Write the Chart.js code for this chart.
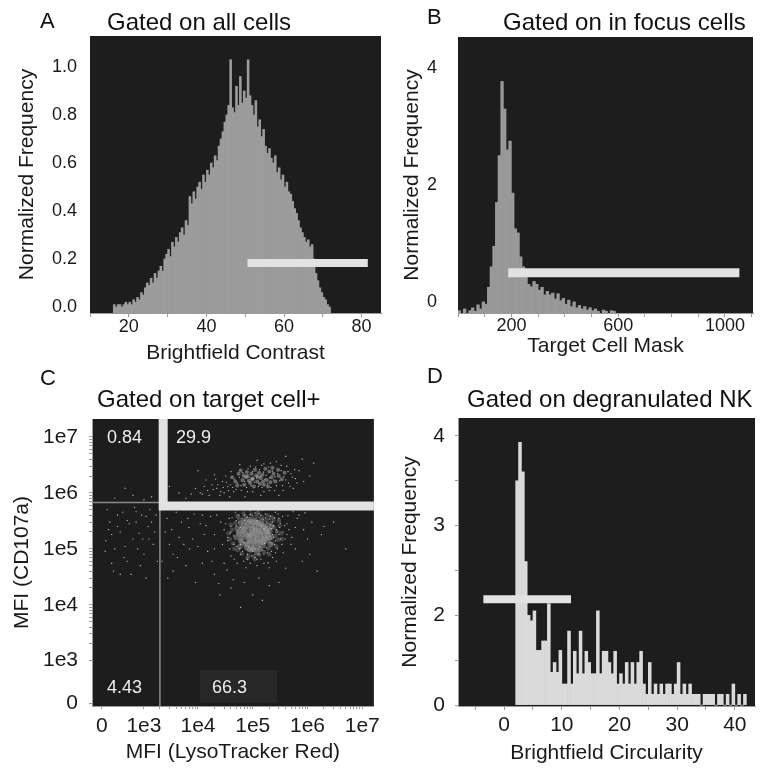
<!DOCTYPE html>
<html>
<head>
<meta charset="utf-8">
<script src="https://cdn.jsdelivr.net/npm/chart.js@4.4.0/dist/chart.umd.min.js"></script>
<style>
  body { margin: 0; background: #fff; }
  #fig { position: relative; width: 760px; height: 769px; font-family: "Liberation Sans", Arial, sans-serif; color: #111; }
  #fig canvas { position: absolute; }
  .lbl { position: absolute; font-size: 22px; line-height: 1; white-space: nowrap; }
  .ttl { position: absolute; font-size: 24px; line-height: 1; white-space: nowrap; }
</style>
</head>
<body>
<div id="fig">
  <canvas id="chartA" width="385" height="380" style="left:0;top:0"></canvas>
  <canvas id="chartB" width="380" height="380" style="left:380px;top:0"></canvas>
  <canvas id="chartC" width="385" height="385" style="left:0;top:384px"></canvas>
  <canvas id="chartD" width="380" height="385" style="left:380px;top:384px"></canvas>
  <div class="lbl" style="left:40px;top:10px">A</div>
  <div class="ttl" style="left:107px;top:10px">Gated on all cells</div>
  <div class="lbl" style="left:427px;top:6px">B</div>
  <div class="ttl" style="left:503px;top:10px">Gated on in focus cells</div>
  <div class="lbl" style="left:40px;top:367px">C</div>
  <div class="ttl" style="left:97px;top:387px">Gated on target cell+</div>
  <div class="lbl" style="left:427px;top:365px">D</div>
  <div class="ttl" style="left:467px;top:387px">Gated on degranulated NK</div>
</div>
<script>
// ---- A: brightfield contrast, all cells (bins of 0.5 from 16) ----
const aBinStart = 16, aBinWidth = 0.5;
const aFreq = [
  0.01, 0, 0.01, 0.01, 0, 0.01, 0.02, 0.01, 0.02, 0.01,
  0.03, 0.02, 0.04, 0.03, 0.06, 0.05, 0.08, 0.1, 0.09, 0.12,
  0.1, 0.14, 0.12, 0.15, 0.17, 0.15, 0.2, 0.22, 0.24, 0.21,
  0.27, 0.25, 0.29, 0.27, 0.31, 0.33, 0.3, 0.36, 0.34, 0.46,
  0.43, 0.48, 0.45, 0.5, 0.52, 0.49, 0.55, 0.52, 0.57, 0.55,
  0.6, 0.58, 0.63, 0.61, 0.67, 0.7, 0.73, 0.77, 0.8, 0.84,
  1.03, 0.83, 0.81, 0.92, 0.84, 0.96, 0.85, 0.9, 0.87, 1.03,
  0.88, 0.84, 0.8, 0.86, 0.75, 0.78, 0.71, 0.74, 0.67, 0.64,
  0.66, 0.62, 0.6, 0.63, 0.56, 0.58, 0.53, 0.55, 0.5, 0.52,
  0.48, 0.47, 0.44, 0.41, 0.39, 0.36, 0.33, 0.31, 0.29, 0.27,
  0.28, 0.25, 0.26, 0.2, 0.14, 0.11, 0.08, 0.06, 0.04, 0.03,
  0.01, 0
];
const aGateX = [50.6, 81.6];
const aGateY = 0.183;
const aXTickMarks = [10, 20, 30, 40, 50, 60, 70, 80];
const aXLabels = [20, 40, 60, 80];
const aYLabels = [0, 0.2, 0.4, 0.6, 0.8, 1.0];

// ---- B: target cell mask, in focus cells (bins of 10 from 0) ----
const bBinStart = 0, bBinWidth = 10;
const bFreq = [
  -0.15, null, -0.12, null, -0.15, -0.1, -0.16, -0.05, -0.12, 0.0,
  -0.04, 0.25, 0.6, 0.95, 1.7, 2.5, 3.77, 3.3, 2.6, 2.75,
  1.86, 1.25, 1.18, 0.77, 0.6, 0.5, 0.3, 0.26, 0.35, 0.3,
  0.2, 0.25, 0.12, 0.18, 0.12, 0.15, 0.05, 0.14, 0.02, 0.06,
  -0.04, 0.03, -0.08, 0.0, -0.1, -0.06, -0.12, -0.08, -0.14, -0.1,
  -0.15, -0.12, -0.16, null, -0.14, -0.16, null, -0.15, -0.16, null
];
const bGateX = [188, 1054];
const bGateY = 0.5;
const bXTickMarks = [0, 100, 200, 300, 400, 500, 600, 700, 800, 900, 1000, 1100];
const bXLabels = [200, 600, 1000];
const bYLabels = [0, 2, 4];

// ---- C: CD107a vs LysoTracker Red, target cell+ ----
const cUpperCore = [
  [1.0e5,1.8e6],[1.2e5,1.6e6],[8.0e4,2.0e6],[1.5e5,2.1e6],[6.5e4,1.7e6],[1.8e5,1.7e6],[9.0e4,1.5e6],[1.3e5,2.3e6],
  [2.2e5,1.9e6],[7.0e4,1.4e6],[1.1e5,2.6e6],[2.6e5,1.6e6],[5.5e4,2.2e6],[1.6e5,1.4e6],[9.5e4,2.2e6],[2.0e5,2.4e6],
  [7.5e4,1.9e6],[1.4e5,1.85e6],[3.0e5,2.0e6],[4.8e4,1.6e6],[1.7e5,2.7e6],[1.05e5,1.3e6],[2.4e5,2.2e6],[8.5e4,1.65e6],
  [6.0e4,2.5e6],[1.25e5,1.95e6],[3.4e5,1.75e6],[4.2e4,1.9e6],[1.9e5,1.3e6],[1.15e5,2.05e6],[2.9e5,2.6e6],[7.8e4,2.35e6],
  [1.55e5,1.6e6],[5.2e4,1.35e6],[2.1e5,1.55e6],[9.8e4,1.75e6],[3.8e5,2.3e6],[1.35e5,1.45e6],[6.8e4,2.05e6],[2.3e5,2.8e6]
];
const cUpperSpread = [
  [3.5e4,1.3e6],[2.8e4,1.6e6],[2.2e4,1.2e6],[1.8e4,1.4e6],[3.0e4,1.0e6],[1.5e4,1.1e6],[4.0e4,2.4e6],[2.5e4,9.0e5],
  [1.2e4,9.5e5],[9.0e3,1.2e6],[3.8e4,8.5e5],[6.0e3,8.0e5],[1.4e4,1.7e6],[4.5e3,1.0e6],[3.2e4,2.0e6],[4.5e5,1.5e6],
  [5.0e5,2.2e6],[6.0e5,1.8e6],[4.2e5,3.0e6],[7.0e5,2.5e6],[5.5e5,1.2e6],[8.5e5,1.6e6],[3.6e5,1.1e6],[1.6e5,3.3e6],
  [9.0e4,3.0e6],[2.7e5,3.6e6],[1.2e5,3.8e6],[5.8e4,3.2e6],[2.0e5,1.1e6],[1.0e5,1.05e6],[6.2e4,1.1e6],[3.0e5,9.0e5],
  [1.4e5,9.0e5],[4.5e4,1.05e6],[1.1e6,2.0e6],[2.0e4,2.1e6],[7.2e4,8.5e5],[4.0e5,4.5e6],[1.3e6,3.4e6],[3.0e3,1.3e6],
  [1.0e4,2.5e6],[8.0e5,4.0e6],
  [1.6e4,9.0e5],[1.9e4,1.15e6],[2.3e4,1.4e6],[2.6e4,1.05e6],[2.9e4,1.25e6],[3.3e4,1.55e6],[3.6e4,1.1e6],[3.9e4,1.4e6],
  [4.3e4,1.25e6],[4.6e4,1.75e6],[5.0e4,1.15e6],[5.3e4,1.5e6],[5.7e4,1.9e6],[6.1e4,1.35e6],[6.6e4,2.3e6],[7.1e4,1.6e6],
  [7.7e4,1.25e6],[8.2e4,2.7e6],[8.8e4,1.9e6],[9.3e4,1.35e6],[9.9e4,2.4e6],[1.07e5,1.55e6],[1.13e5,2.9e6],[1.19e5,1.85e6],
  [1.27e5,1.3e6],[1.33e5,2.6e6],[1.41e5,2.0e6],[1.47e5,1.25e6],[1.58e5,2.35e6],[1.66e5,1.75e6],[1.76e5,2.05e6],[1.85e5,1.45e6],
  [1.95e5,2.9e6],[2.05e5,1.85e6],[2.15e5,1.25e6],[2.28e5,2.45e6],[2.4e5,1.7e6],[2.55e5,1.95e6],[2.7e5,1.35e6],[2.85e5,2.2e6],
  [3.1e5,1.65e6],[3.3e5,2.5e6],[3.5e5,1.35e6],[3.7e5,1.95e6],[4.0e5,1.7e6],[4.4e5,2.4e6],[4.8e5,1.3e6],[5.3e5,1.9e6],
  [5.8e5,2.6e6],[6.4e5,1.5e6],[2.1e4,1.75e6],[1.3e4,1.3e6],[1.1e4,1.0e6],[7.5e3,9.5e5],[8.0e4,1.05e6],[1.6e5,1.05e6],
  [2.5e5,1.1e6],[3.3e5,3.1e6],[2.1e5,3.4e6],[1.45e5,3.1e6]
];
const cLowerCore = [
  [1.0e5,1.7e5],[1.2e5,1.5e5],[8.5e4,1.9e5],[1.1e5,2.1e5],[9.0e4,1.4e5],[1.4e5,1.8e5],[7.5e4,1.6e5],[1.3e5,2.4e5],
  [9.5e4,2.6e5],[1.05e5,1.2e5],[1.6e5,1.4e5],[7.0e4,2.2e5],[1.25e5,1.05e5],[8.0e4,1.25e5],[1.5e5,2.2e5],[6.5e4,1.8e5],
  [1.15e5,2.9e5],[1.8e5,1.9e5],[9.2e4,9.5e4],[1.35e5,1.3e5],[6.0e4,1.4e5],[1.7e5,2.6e5],[8.2e4,2.9e5],[1.45e5,3.1e5],
  [1.0e5,3.3e5],[2.0e5,1.55e5],[5.5e4,2.0e5],[1.2e5,8.5e4],[7.8e4,1.05e5],[1.9e5,2.3e5],[6.8e4,2.6e5],[1.55e5,1.15e5],
  [1.08e5,2.45e5],[8.8e4,1.65e5],[1.28e5,1.95e5],[9.8e4,2.0e5],[1.18e5,1.78e5],[7.2e4,1.95e5],[1.42e5,1.58e5],[8.4e4,2.35e5],
  [1.02e5,1.45e5],[1.22e5,1.25e5],[9.4e4,1.15e5],[1.62e5,1.72e5],[6.2e4,1.58e5],[1.12e5,2.25e5],[8.6e4,1.38e5],[1.32e5,2.75e5],
  [7.6e4,2.48e5],[1.48e5,2.0e5],[1.04e5,1.88e5],[9.1e4,1.78e5],[1.16e5,1.62e5],[1.26e5,2.15e5],[8.1e4,1.72e5],[1.38e5,1.42e5],
  [9.7e4,2.32e5],[1.75e5,2.05e5],[6.6e4,2.1e5],[1.1e5,1.35e5],
  [5.0e4,1.6e5],[5.2e4,2.3e5],[5.8e4,1.1e5],[6.0e4,2.9e5],[6.4e4,1.3e5],[6.8e4,3.1e5],[7.4e4,1.2e5],[7.8e4,3.3e5],
  [8.6e4,9.8e4],[8.8e4,3.1e5],[9.6e4,3.0e5],[1.06e5,9.8e4],[1.14e5,3.1e5],[1.24e5,2.9e5],[1.34e5,9.8e4],[1.44e5,2.7e5],
  [1.52e5,1.3e5],[1.58e5,2.5e5],[1.66e5,1.55e5],[1.72e5,2.3e5],[1.82e5,1.4e5],[1.86e5,2.1e5],[1.95e5,1.75e5],[2.05e5,2.05e5],
  [2.15e5,1.6e5],[2.2e5,2.5e5],[5.6e4,1.85e5],[6.2e4,2.35e5],[2.1e5,1.2e5],[1.0e5,1.0e5]
];
const cLowerRing = [
  [3.8e4,1.5e5],[4.2e4,2.2e5],[4.4e4,1.25e5],[4.8e4,2.9e5],[5.3e4,9.5e4],[5.6e4,3.5e5],[6.3e4,8.2e4],[7.3e4,3.8e5],
  [8.3e4,7.6e4],[9.3e4,4.1e5],[1.05e5,7.4e4],[1.18e5,4.0e5],[1.32e5,7.8e4],[1.46e5,3.7e5],[1.62e5,8.8e4],[1.78e5,3.3e5],
  [1.95e5,1.0e5],[2.1e5,2.9e5],[2.3e5,1.25e5],[2.45e5,2.4e5],[2.6e5,1.7e5],[2.75e5,2.05e5],[2.9e5,1.45e5],[3.1e5,2.6e5],
  [2.4e5,3.3e5],[2.7e5,1.1e5],[3.3e5,1.9e5],[3.6e4,1.9e5],[4.0e4,2.7e5],[4.6e4,1.0e5],[6.8e4,4.3e5],[1.25e5,4.5e5],
  [1.85e5,4.0e5],[2.2e5,3.7e5],[5.2e4,3.9e5],[2.0e5,8.0e4],[1.1e5,6.5e4],[8.0e4,6.8e4],[3.0e5,3.2e5],[3.4e5,1.5e5]
];
const cLowerSpread = [
  [2.5e5,1.2e5],[2.3e5,3.0e5],[4.5e4,1.2e5],[4.0e4,2.5e5],[2.8e5,2.0e5],[3.2e5,1.5e5],[5.0e4,3.2e5],[2.1e5,3.8e5],
  [1.3e5,4.2e5],[7.0e4,4.0e5],[1.1e5,7.0e4],[8.0e4,6.5e4],[1.6e5,8.0e4],[6.0e4,8.0e4],[3.5e4,1.6e5],[2.2e5,9.0e4],
  [3.8e5,2.6e5],[3.0e4,2.2e5],[2.6e5,4.5e5],[9.0e4,4.8e5],[4.2e5,1.8e5],[1.9e5,5.6e4],[5.2e4,5.5e4],[2.8e4,1.2e5],
  [1.5e5,4.9e5],[3.0e5,3.5e5],[4.8e4,4.5e5],[2.6e4,3.0e5],[5.0e5,1.2e5],[2.0e5,4.6e4],[1.2e5,5.0e4],[7.5e4,4.6e4],
  [3.6e5,8.5e4],[4.0e4,7.5e4],[6.0e5,2.4e5],[2.0e4,1.8e5],[2.2e4,4.0e5],[4.4e5,3.9e5],[3.4e4,4.2e4],[2.7e5,6.0e4],
  [1.7e5,3.6e5],[6.4e4,3.5e5],[3.1e5,2.4e5],[5.8e4,1.0e5],[2.4e5,1.6e5],[1.4e5,6.5e4],[8.8e4,3.6e5],[3.9e4,1.9e5],
  [2.1e5,2.7e5],[1.8e5,1.05e5],
  [3.5e4,1.4e5],[4.0e4,2.0e5],[4.5e4,1.7e5],[5.0e4,2.6e5],[5.0e4,1.1e5],[5.5e4,3.0e5],[6.0e4,2.4e5],[6.0e4,1.2e5],
  [6.5e4,9.0e4],[7.0e4,3.2e5],[7.0e4,1.3e5],[7.5e4,2.8e5],[8.0e4,8.0e4],[8.0e4,3.7e5],[8.5e4,1.1e5],[9.0e4,4.1e5],
  [9.0e4,2.1e5],[9.5e4,7.5e4],[1.0e5,3.9e5],[1.0e5,9.0e4],[1.05e5,2.8e5],[1.1e5,4.4e5],[1.1e5,1.0e5],[1.15e5,3.6e5],
  [1.2e5,6.5e4],[1.2e5,3.2e5],[1.3e5,8.0e4],[1.3e5,3.6e5],[1.35e5,1.1e5],[1.4e5,4.0e5],[1.45e5,2.6e5],[1.5e5,9.5e4],
  [1.55e5,3.4e5],[1.6e5,2.3e5],[1.65e5,1.25e5],[1.7e5,4.2e5],[1.75e5,1.6e5],[1.8e5,3.0e5],[1.85e5,8.5e4],[1.9e5,2.8e5],
  [2.0e5,1.9e5],[2.0e5,3.4e5],[2.1e5,1.3e5],[2.2e5,2.3e5],[2.3e5,1.8e5],[2.3e5,7.0e4],[2.4e5,2.6e5],[2.5e5,3.6e5],
  [2.6e5,1.4e5],[2.7e5,2.2e5],[2.8e5,1.0e5],[3.0e5,1.8e5],[3.2e5,2.9e5],[3.4e5,1.2e5],[3.6e5,2.0e5],[3.9e5,1.5e5],
  [4.2e5,2.8e5],[4.6e5,2.2e5],[5.2e5,1.6e5],[2.9e5,4.2e5],[4.2e4,3.6e5],[3.2e4,2.8e5],[3.8e4,1.0e5],[4.6e4,6.5e4],
  [5.6e4,4.0e5],[1.6e5,5.5e4],[9.0e4,5.5e4],[6.8e4,6.0e4],[2.6e5,8.5e4],[3.5e5,3.8e5],
  [5.0e3,3.0e5],[8.0e3,1.5e5],[3.5e3,8.0e4],[1.2e4,4.0e5],[6.0e3,5.0e4],[1.5e4,9.0e4],[2.5e3,2.0e5],[4.0e3,4.5e5],
  [9.0e3,2.5e4],[2.0e4,3.5e4],[1.1e4,2.8e5],[7.0e3,1.0e5],[1.8e4,6.0e4],[3.0e3,1.2e5],[1.0e6,1.5e5],[2.0e6,2.5e5],
  [8.0e5,6.0e4],[1.5e6,4.0e4],[5.0e6,1.0e5],[7.0e5,4.0e5],[1.2e6,3.0e5],[4.0e4,2.0e4],[1.0e5,1.5e4],[3.0e5,2.5e4],
  [6.0e4,9.0e3],[2.5e4,1.5e4],[6.5e3,3.5e5],[1.3e4,1.8e5],[2.8e3,3.0e4],[4.5e3,1.6e5],
  [2.2e3,6.0e4],[2.7e3,3.5e5],[3.3e3,2.2e5],[4.2e3,7.0e4],[5.5e3,1.2e5],[6.8e3,2.4e5],[8.5e3,4.2e5],[1.0e4,1.1e5],
  [1.2e4,5.5e4],[1.4e4,2.6e5],[1.7e4,3.8e5],[2.0e4,1.0e5],[2.4e4,2.4e4],[3.0e4,5.5e4],[3.7e4,3.5e5],[4.4e4,2.8e4],
  [7.0e4,2.5e4],[1.3e5,3.0e4],[2.0e5,2.2e4],[4.0e5,4.5e4],[6.0e5,1.0e5],[8.5e5,2.2e5],[6.5e5,3.5e5],[1.1e6,8.0e4],
  [1.8e6,1.8e5],[3.0e6,3.0e5],[9.0e5,4.4e5],[5.5e5,4.6e5],[1.5e5,1.2e4],[3.5e3,4.0e4]
];
const cLeft = [
  [120,3.0e5],[300,2.0e5],[600,1.5e5],[900,4.0e5],[200,1.0e5],[450,6.0e4],[1200,2.5e5],[80,5.0e5],
  [700,3.0e5],[1500,1.2e5],[350,4.5e5],[1000,8.0e4],[250,2.5e5],[550,3.5e4],[1700,4.0e5],[150,1.8e5],
  [800,1.9e5],[400,1.1e5],[1300,5.0e5],[50,9.0e4],[650,5.5e5],[300,3.5e4],[1100,3.0e4],[950,1.5e5],
  [180,4.0e4],[200,8.0e5],[600,9.0e5],[1000,7.5e5],[400,1.2e6],[1400,8.5e5],
  [100,2.2e5],[250,4.0e5],[500,2.8e5],[750,1.0e5],[1100,3.8e5],[1600,2.0e5],[60,1.4e5],[380,7.0e4],
  [850,5.0e4],[1250,1.5e5],[1800,6.0e4],[450,3.2e5],[150,5.5e4],[1400,3.0e5],[700,4.6e5]
];
const cQuadText = ['0.84', '29.9', '4.43', '66.3'];
const cThinX = 2000, cThinY = 6.7e5;
const cGateX = 2300, cGateY = 5.8e5;
const cTickValues = [0, 1e3, 1e4, 1e5, 1e6, 1e7];
const cTickText = ['0', '1e3', '1e4', '1e5', '1e6', '1e7'];

// ---- D: brightfield circularity, degranulated NK (bins of 0.5 from 2) ----
const dBinStart = 2, dBinWidth = 0.5;
const dFreq = [
  3.5, 3.93, 3.6, 2.6, 2.0, 1.88, 2.05, 1.22, 1.22, 1.43,
  1.43, 2.13, 0.73, 0.95, 0.73, 1.22, 0.47, 0.47, 1.65, 0.47,
  1.2, 0.7, 1.65, 0.7, 1.2, 0.95, 0.7, 0.7, 2.05, 0.7,
  1.2, 1.2, 0.95, 0.7, 1.2, 0.47, 0.7, 0.47, 0.95, 0.47,
  0.95, 0.47, 0.95, 1.2, 0.47, 0.24, 0.95, 0.24, 0.47, 0.24,
  0.47, 0.24, 0.47, 0.47, 0.24, 0.47, 0.95, 0.24, 0.47, 0.24,
  0.47, 0.24, 0.24, 0.24, 0, 0.24, 0.24, 0.24, 0.24, 0,
  0.24, 0.24, 0, 0.24, 0, 0.47, 0, 0.24, 0, 0.24
];
const dGateX = [-3.6, 11.6];
const dGateY = 2.18;
const dXTickMarks = [-5, 0, 5, 10, 15, 20, 25, 30, 35, 40];
const dXLabels = [0, 10, 20, 30, 40];
const dYTickMarks = [0, 1, 2, 2.5, 3, 3.5, 4];
const dYLabels = [0, 2, 3, 4];

// ---- shared style ----
const INK = '#1a1a1a';
const AXIS = '#9a9a9a';
const PLOT_BG = '#1d1d1d';
const GATE = '#e2e2e2';
Chart.defaults.font.family = '"Liberation Sans", Arial, sans-serif';
Chart.defaults.color = INK;

// biexponential-like display: asinh transform (0, 1e3 .. 1e7)
const COFACTOR = 350;
class AsinhScale extends Chart.LinearScale {
  static id = 'asinh';
  fwd(v) { return Math.asinh(v / COFACTOR); }
  inv(t) { return Math.sinh(t) * COFACTOR; }
  getPixelForValue(v) {
    if (v === null || v === undefined || isNaN(v)) return NaN;
    const t0 = this.fwd(this.min), t1 = this.fwd(this.max);
    return this.getPixelForDecimal((this.fwd(v) - t0) / (t1 - t0));
  }
  getValueForPixel(p) {
    const t0 = this.fwd(this.min), t1 = this.fwd(this.max);
    return this.inv(t0 + this.getDecimalForPixel(p) * (t1 - t0));
  }
}
// panel D y axis: 0..2 is drawn at half the spacing of 2..4
class SplitScale extends AsinhScale {
  static id = 'split';
  fwd(v) { return v < 2 ? v / 2 : v - 1; }
  inv(t) { return t < 1 ? t * 2 : t + 1; }
}
Chart.register(AsinhScale, SplitScale);

const plotBg = {
  id: 'plotBg',
  beforeDraw(chart) {
    const { ctx, chartArea: a } = chart;
    ctx.save();
    ctx.fillStyle = PLOT_BG;
    ctx.fillRect(a.left, a.top, a.right - a.left, a.bottom - a.top);
    ctx.restore();
  }
};

function histBars(start, width, freq) {
  return freq.map((y, i) => ({ x: start + width * (i + 0.5), y }));
}

function gateLine(xs, y) {
  return xs.map(x => ({ x, y }));
}

function xAxis(o) {
  return {
    type: 'linear', min: o.min, max: o.max, offset: false,
    afterFit: s => { s.height = o.height; },
    afterBuildTicks: s => { s.ticks = o.marks.map(v => ({ value: v })); },
    grid: { display: true, drawOnChartArea: false, drawTicks: true, tickLength: 4, color: AXIS, offset: false },
    border: { display: true, color: AXIS },
    ticks: { padding: o.pad, autoSkip: false, maxRotation: 0, font: { size: o.font }, color: INK,
             callback: v => o.labels.includes(v) ? String(v) : '' },
    title: { display: true, text: o.title, font: { size: 21 }, color: INK, padding: { top: 0, bottom: o.titlePad } }
  };
}

function yAxis(o) {
  return {
    type: o.type || 'linear', min: o.min, max: o.max,
    afterFit: s => { s.width = o.width; },
    afterBuildTicks: s => { s.ticks = o.marks.map(v => ({ value: v })); },
    grid: { display: !!o.tick, drawOnChartArea: false, drawTicks: !!o.tick, tickLength: o.tick || 0, color: AXIS },
    border: { display: !!o.border, color: AXIS },
    ticks: { padding: o.pad, autoSkip: false, font: { size: o.font }, color: INK, callback: o.cb },
    title: { display: true, text: o.title, font: { size: 21 }, color: INK, padding: { top: o.titlePad, bottom: 0 } }
  };
}

const common = {
  responsive: false,
  animation: false,
  events: [],
  plugins: { legend: { display: false }, tooltip: { enabled: false } }
};

// ---- A ----
new Chart(document.getElementById('chartA'), {
  type: 'bar',
  data: {
    datasets: [
      { type: 'line', data: gateLine(aGateX, aGateY), borderColor: GATE, borderWidth: 8, pointRadius: 0, order: 0 },
      { data: histBars(aBinStart, aBinWidth, aFreq), backgroundColor: '#9c9c9c', barPercentage: 1, categoryPercentage: 1,
        base: -0.025, order: 1 }
    ]
  },
  options: {
    ...common,
    layout: { padding: { left: 0, top: 36, right: 4, bottom: 0 } },
    scales: {
      x: xAxis({ min: 10, max: 85, height: 67, marks: aXTickMarks, labels: aXLabels, pad: -1, font: 18,
                 title: 'Brightfield Contrast', titlePad: 14 }),
      y: yAxis({ min: -0.025, max: 1.129, width: 90, marks: aYLabels, pad: 13, font: 18,
                 cb: v => v.toFixed(1), title: 'Normalized Frequency', titlePad: 15 })
    }
  },
  plugins: [plotBg]
});

// ---- B ----
new Chart(document.getElementById('chartB'), {
  type: 'bar',
  data: {
    datasets: [
      { type: 'line', data: gateLine(bGateX, bGateY), borderColor: GATE, borderWidth: 9, pointRadius: 0, order: 0 },
      { data: histBars(bBinStart, bBinWidth, bFreq), backgroundColor: '#999999', barPercentage: 1, categoryPercentage: 1,
        base: -0.19, order: 1 }
    ]
  },
  options: {
    ...common,
    layout: { padding: { left: 0, top: 37, right: 7, bottom: 0 } },
    scales: {
      x: xAxis({ min: 0, max: 1105, height: 67, marks: bXTickMarks, labels: bXLabels, pad: -2, font: 18,
                 title: 'Target Cell Mask', titlePad: 21 }),
      y: yAxis({ min: -0.19, max: 4.53, width: 78, marks: bYLabels, pad: 21, font: 18,
                 cb: v => String(v), title: 'Normalized Frequency', titlePad: 20 })
    }
  },
  plugins: [plotBg]
});

// ---- C ----
function cMarks() {
  const m = [0];
  for (let d = 3; d < 7; d++) for (let k = 1; k < 10; k++) m.push(k * Math.pow(10, d));
  m.push(1e7);
  return m;
}
const cLabel = v => { const i = cTickValues.indexOf(v); return i >= 0 ? cTickText[i] : ''; };
const toXY = arr => arr.map(p => ({ x: p[0], y: p[1] }));

const quadLabels = {
  id: 'quadLabels',
  beforeDatasetsDraw(chart) {
    const { ctx, chartArea: a } = chart;
    ctx.save();
    ctx.fillStyle = '#272727';
    ctx.fillRect(a.left + 108, a.bottom - 36, 77, 33);
    ctx.restore();
  },
  afterDatasetsDraw(chart) {
    const { ctx, chartArea: a } = chart;
    const pos = [[15, a.top + 19], [84, a.top + 19], [15, a.bottom - 18], [120, a.bottom - 18]];
    ctx.save();
    ctx.font = '18px "Liberation Sans", Arial, sans-serif';
    ctx.fillStyle = '#eeeeee';
    ctx.textBaseline = 'middle';
    cQuadText.forEach((t, i) => ctx.fillText(t, a.left + pos[i][0], pos[i][1]));
    ctx.restore();
  }
};

const C_XMIN = -148, C_XMAX = 1.63e7, C_YMIN = -42, C_YMAX = 2.09e7;
new Chart(document.getElementById('chartC'), {
  type: 'scatter',
  data: {
    datasets: [
      { data: [{ x: C_XMIN, y: cThinY }, { x: cThinX, y: cThinY }], showLine: true, borderColor: '#8a8a8a',
        borderWidth: 1.5, pointRadius: 0, order: 1 },
      { data: [{ x: cThinX, y: C_YMIN }, { x: cThinX, y: cThinY }], showLine: true, borderColor: '#8a8a8a',
        borderWidth: 1.5, pointRadius: 0, order: 1 },
      { data: [{ x: cGateX, y: C_YMAX }, { x: cGateX, y: cGateY }, { x: C_XMAX, y: cGateY }], showLine: true,
        borderColor: GATE, borderWidth: 9, borderJoinStyle: 'miter', pointRadius: 0, order: 0 },
      { data: toXY(cLowerCore), pointStyle: 'circle', pointRadius: 2.8, pointBorderWidth: 0,
        pointBackgroundColor: 'rgba(150,150,150,0.5)', order: 3 },
      { data: toXY(cLowerRing), pointStyle: 'circle', pointRadius: 2.2, pointBorderWidth: 0,
        pointBackgroundColor: 'rgba(150,150,150,0.35)', order: 4 },
      { data: toXY(cUpperCore), pointStyle: 'circle', pointRadius: 2, pointBorderWidth: 0,
        pointBackgroundColor: 'rgba(200,200,200,0.45)', order: 3 },
      { data: toXY(cLowerSpread.concat(cUpperSpread, cLeft)), pointStyle: 'rect', pointRadius: 0.8, pointBorderWidth: 0,
        pointBackgroundColor: '#bdbdbd', order: 2 }
    ]
  },
  options: {
    ...common,
    layout: { padding: { left: 0, top: 35, right: 5, bottom: 0 } },
    scales: {
      x: {
        type: 'asinh', min: C_XMIN, max: C_XMAX,
        afterFit: s => { s.height = 63; },
        afterBuildTicks: s => { s.ticks = cMarks().map(v => ({ value: v })); },
        grid: { display: true, drawOnChartArea: false, drawTicks: true, tickLength: 3, color: AXIS },
        border: { display: true, color: AXIS },
        ticks: { padding: 5, autoSkip: false, maxRotation: 0, font: { size: 21 }, color: INK, callback: cLabel },
        title: { display: true, text: 'MFI (LysoTracker Red)', font: { size: 21 }, color: INK, padding: { top: 0, bottom: 4 } }
      },
      y: {
        type: 'asinh', min: C_YMIN, max: C_YMAX,
        afterFit: s => { s.width = 92; },
        afterBuildTicks: s => { s.ticks = cMarks().map(v => ({ value: v })); },
        grid: { display: true, drawOnChartArea: false, drawTicks: true, tickLength: 3, color: AXIS },
        border: { display: true, color: AXIS },
        ticks: { padding: 11, autoSkip: false, font: { size: 21 }, color: INK, callback: cLabel },
        title: { display: true, text: 'MFI (CD107a)', font: { size: 21 }, color: INK, padding: { top: 10, bottom: 0 } }
      }
    }
  },
  plugins: [plotBg, quadLabels]
});

// ---- D ----
new Chart(document.getElementById('chartD'), {
  type: 'bar',
  data: {
    datasets: [
      { type: 'line', data: gateLine(dGateX, dGateY), borderColor: GATE, borderWidth: 8, pointRadius: 0, order: 0 },
      { data: histBars(dBinStart, dBinWidth, dFreq), backgroundColor: '#dadada', barPercentage: 1, categoryPercentage: 1,
        order: 1 }
    ]
  },
  options: {
    ...common,
    layout: { padding: { left: 0, top: 34, right: 5, bottom: 0 } },
    scales: {
      x: xAxis({ min: -8, max: 43.5, height: 63, marks: dXTickMarks, labels: dXLabels, pad: 3, font: 21,
                 title: 'Brightfield Circularity', titlePad: 3 }),
      y: yAxis({ type: 'split', min: -0.02, max: 4.2, width: 78, marks: dYTickMarks, pad: 10, font: 21, tick: 3, border: true,
                 cb: v => dYLabels.includes(v) ? String(v) : '', title: 'Normalized Frequency', titlePad: 18 })
    }
  },
  plugins: [plotBg]
});
</script>
</body>
</html>
